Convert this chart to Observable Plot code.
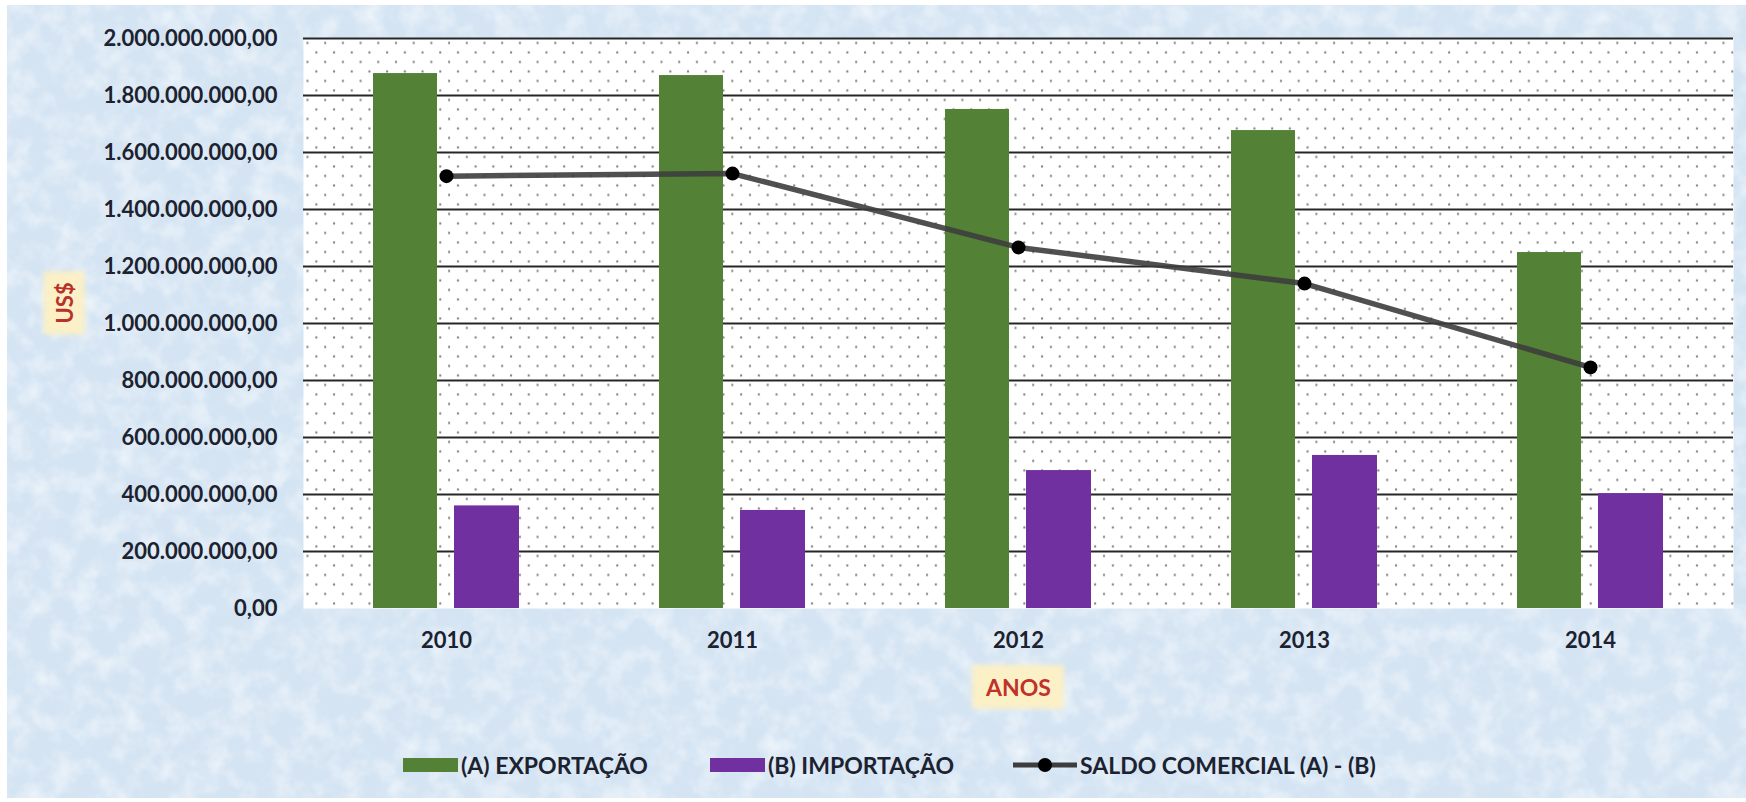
<!DOCTYPE html>
<html>
<head>
<meta charset="utf-8">
<script src="https://cdn.jsdelivr.net/npm/d3@7"></script>
<script src="https://cdn.jsdelivr.net/npm/@observablehq/plot@0.6"></script>
<style>
  html, body { margin: 0; padding: 0; background: #ffffff; }
  #wrap { position: relative; width: 1746px; height: 802px; overflow: hidden; }
  #bg { position: absolute; left: 7px; top: 5px; }
  #chart { position: absolute; left: 0; top: 0; }
  .leg { position: absolute; top: 750px; height: 30px; display: flex; align-items: center;
         font-family: Lato, "Open Sans", sans-serif; font-weight: 700; font-size: 23px; color: #1c2230; white-space: nowrap; }
  .sw { width: 55px; height: 14px; margin-right: 3px; }
</style>
</head>
<body>
<div id="wrap">
  <svg id="bg" width="1739" height="793">
    <filter id="noise" x="0" y="0" width="100%" height="100%">
      <feTurbulence type="fractalNoise" baseFrequency="0.045" numOctaves="3" seed="7"/>
      <feColorMatrix type="matrix" values="0 0 0 0 1  0 0 0 0 1  0 0 0 0 1  1.8 0 0 0 -0.7"/>
    </filter>
    <rect width="100%" height="100%" fill="#d4e4f3"/>
    <rect width="100%" height="100%" filter="url(#noise)" opacity="0.6"/>
  </svg>
  <div id="chart"></div>
  <div class="leg" style="left:403px"><div class="sw" style="background:#538135"></div><span>(A) EXPORTAÇÃO</span></div>
  <div class="leg" style="left:710px"><div class="sw" style="background:#7030a0"></div><span>(B) IMPORTAÇÃO</span></div>
  <div class="leg" style="left:1013px">
    <svg width="64" height="18" style="margin-right:3px"><line x1="0" y1="9" x2="64" y2="9" stroke="#3d3d3d" stroke-width="5"/><circle cx="32" cy="9" r="7" fill="#000"/></svg>
    <span>SALDO COMERCIAL (A) - (B)</span>
  </div>
</div>
<script>
// ---- data ----
const years = ["2010", "2011", "2012", "2013", "2014"];
const exportacao = [1877000000, 1870000000, 1751000000, 1677000000, 1249000000];
const importacao = [360000000, 344000000, 484000000, 537000000, 403000000];
const saldo = [1517000000, 1526000000, 1267000000, 1140000000, 846000000];
const yTicks = [0, 200000000, 400000000, 600000000, 800000000, 1000000000, 1200000000, 1400000000, 1600000000, 1800000000, 2000000000];
const gridTicks = [200000000, 400000000, 600000000, 800000000, 1000000000, 1200000000, 1400000000, 1600000000, 1800000000, 2000000000];
const yTitle = "US$";
const xTitle = "ANOS";

const rows = years.map((y, i) => ({year: y, exp: exportacao[i], imp: importacao[i], saldo: saldo[i]}));
const fmt = d3.formatLocale({decimal: ",", thousands: ".", grouping: [3], currency: ["", ""]}).format(",.2f");

const chart = Plot.plot({
  width: 1746,
  height: 730,
  marginLeft: 303,
  marginRight: 13,
  marginTop: 38,
  marginBottom: 122,
  style: {background: "transparent", fontFamily: "Lato, 'Open Sans', sans-serif", overflow: "visible"},
  x: {domain: years, padding: 0},
  y: {domain: [0, 2000000000]},
  marks: [
    Plot.frame({fill: "#ffffff"}),
    Plot.frame({fill: "url(#dots)"}),
    Plot.ruleY(gridTicks, {stroke: "#262626", strokeWidth: 2.2}),
    Plot.barY(rows, {x: "year", y: "exp", fill: "#538135", insetLeft: 70, insetRight: 152}),
    Plot.barY(rows, {x: "year", y: "imp", fill: "#7030a0", insetLeft: 151, insetRight: 70}),
    Plot.lineY(rows, {x: "year", y: "saldo", stroke: "#3d3d3d", strokeWidth: 5.5, strokeOpacity: 0.9}),
    Plot.dot(rows, {x: "year", y: "saldo", r: 7, fill: "#000000"}),
    Plot.axisY({ticks: yTicks, tickFormat: fmt, tickSize: 0, tickPadding: 26, label: null,
      fontSize: 22, fontWeight: "bold", fill: "#1c2230"}),
    Plot.axisX({tickSize: 0, tickPadding: 24, label: null, fontSize: 22, fontWeight: "bold", fill: "#1c2230"}),
    Plot.text([yTitle], {frameAnchor: "left", dx: -238, rotate: -90, fill: "#b8312a",
      fontSize: 22, fontWeight: "bold", className: "ytitle"}),
    Plot.text([xTitle], {frameAnchor: "bottom", dy: 80, lineAnchor: "middle", fill: "#c0322a",
      fontSize: 23, fontWeight: "bold", className: "xtitle"})
  ]
});

const ns = "http://www.w3.org/2000/svg";
const defs = document.createElementNS(ns, "defs");
defs.innerHTML = `<pattern id="dots" patternUnits="userSpaceOnUse" x="303" y="38" width="17.7" height="19">
  <circle cx="4" cy="4.5" r="1.15" fill="#7d7d7d"/>
  <circle cx="12.85" cy="14" r="1.15" fill="#7d7d7d"/>
</pattern>
<filter id="soft" x="-20%" y="-20%" width="140%" height="140%"><feGaussianBlur stdDeviation="2.5"/></filter>`;
chart.insertBefore(defs, chart.firstChild);
document.getElementById("chart").appendChild(chart);

// pale yellow boxes behind the axis titles
function boxBehind(cls, padX, padY) {
  const g = chart.querySelector("." + cls);
  if (!g) return;
  const t = g.querySelector("text");
  const r = t.getBoundingClientRect();
  const sr = chart.getBoundingClientRect();
  const rect = document.createElementNS(ns, "rect");
  rect.setAttribute("x", r.left - sr.left - padX);
  rect.setAttribute("y", r.top - sr.top - padY);
  rect.setAttribute("width", r.width + 2 * padX);
  rect.setAttribute("height", r.height + 2 * padY);
  rect.setAttribute("fill", "#fbf0c6");
  rect.setAttribute("filter", "url(#soft)");
  g.parentNode.insertBefore(rect, g);
}
boxBehind("ytitle", 7, 11);
boxBehind("xtitle", 13, 8);
</script>
</body>
</html>
